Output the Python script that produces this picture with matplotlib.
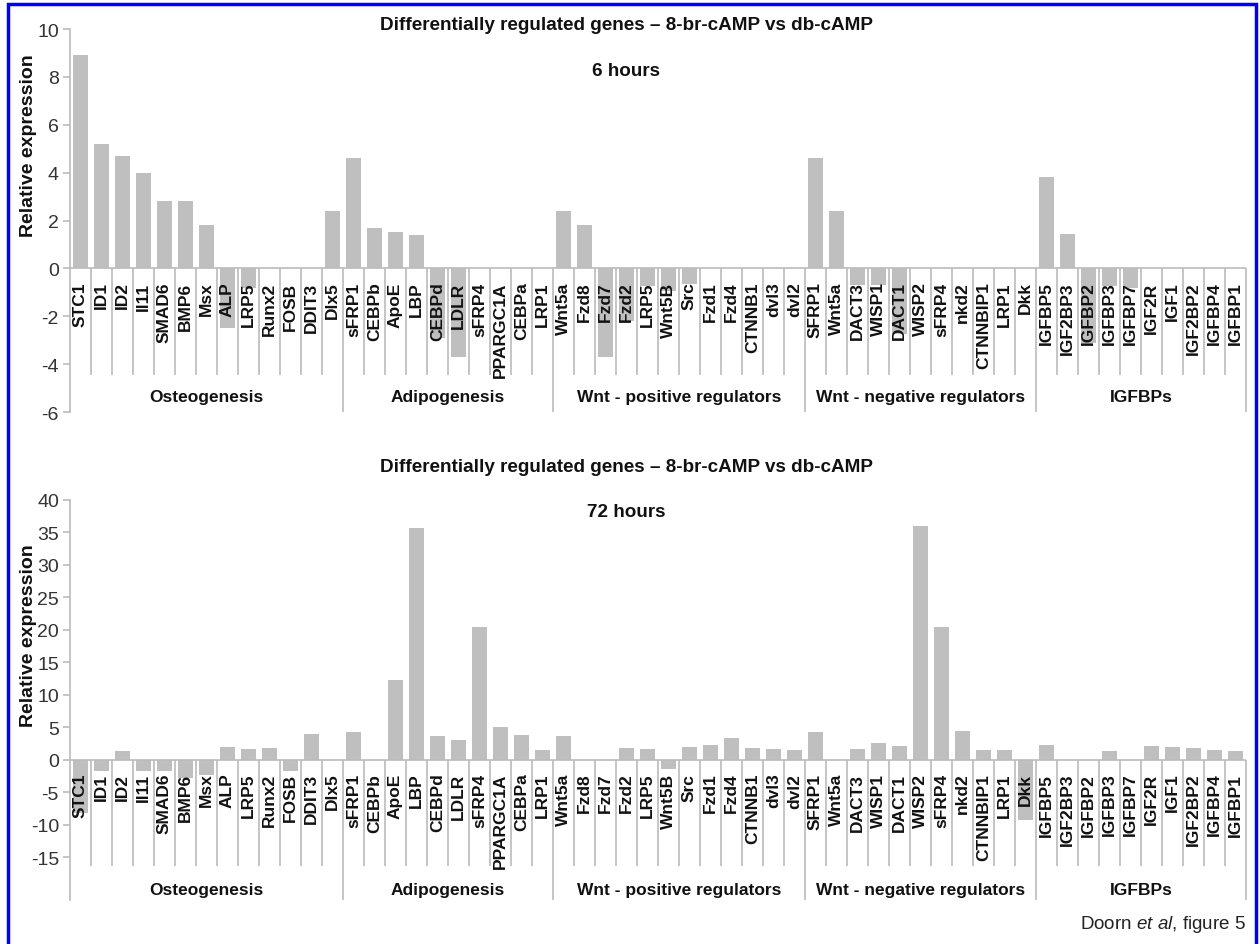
import numpy as np
import matplotlib
matplotlib.use('Agg')
import matplotlib.pyplot as plt
from matplotlib.transforms import offset_copy
from matplotlib.patches import Rectangle

plt.rcParams['font.family'] = ['Liberation Sans', 'DejaVu Sans']
plt.rcParams['axes.unicode_minus'] = False
plt.rcParams['mathtext.fontset'] = 'custom'
plt.rcParams['mathtext.rm'] = 'Liberation Sans'
plt.rcParams['mathtext.it'] = 'Liberation Sans:italic'

# gene groups (order as in the figure)
groups = ['Osteogenesis', 'Adipogenesis', 'Wnt - positive regulators',
          'Wnt - negative regulators', 'IGFBPs']
osteo = ['STC1', 'ID1', 'ID2', 'Il11', 'SMAD6', 'BMP6', 'Msx', 'ALP', 'LRP5',
         'Runx2', 'FOSB', 'DDIT3', 'Dlx5']
adipo = ['sFRP1', 'CEBPb', 'ApoE', 'LBP', 'CEBPd', 'LDLR', 'sFRP4', 'PPARGC1A',
         'CEBPa', 'LRP1']
wnt_pos = ['Wnt5a', 'Fzd8', 'Fzd7', 'Fzd2', 'LRP5', 'Wnt5B', 'Src', 'Fzd1',
           'Fzd4', 'CTNNB1', 'dvl3', 'dvl2']
wnt_neg = ['SFRP1', 'Wnt5a', 'DACT3', 'WISP1', 'DACT1', 'WISP2', 'sFRP4', 'nkd2',
           'CTNNBIP1', 'LRP1', 'Dkk']
igfbp = ['IGFBP5', 'IGF2BP3', 'IGFBP2', 'IGFBP3', 'IGFBP7', 'IGF2R', 'IGF1',
         'IGF2BP2', 'IGFBP4', 'IGFBP1']

# relative expression, 6 hours
h6_osteo = [8.9, 5.2, 4.7, 4.0, 2.8, 2.8, 1.8, -2.5, -0.8, 0, 0, 0, 2.4]
h6_adipo = [4.6, 1.7, 1.5, 1.4, -2.9, -3.7, 0, 0, 0, 0]
h6_wnt_pos = [2.4, 1.8, -3.7, -2.2, -0.75, -0.95, -0.65, 0, 0, 0, 0, 0]
h6_wnt_neg = [4.6, 2.4, -0.7, -0.7, -2.75, 0, 0, 0, 0, 0, 0]
h6_igfbp = [3.8, 1.45, -3.1, -0.75, -0.8, 0, 0, 0, 0, 0]

# relative expression, 72 hours
h72_osteo = [-8.2, -1.7, 1.4, -1.8, -1.8, -2.8, -2.3, 1.9, 1.65, 1.75, -1.8, 3.95, 0]
h72_adipo = [4.2, 0, 12.2, 35.6, 3.7, 3.0, 20.4, 5.0, 3.8, 1.5]
h72_wnt_pos = [3.6, 0, 0, 1.75, 1.65, -1.5, 1.9, 2.2, 3.4, 1.75, 1.65, 1.5]
h72_wnt_neg = [4.2, 0, 1.65, 2.6, 2.15, 36.0, 20.4, 4.45, 1.5, 1.5, -9.3]
h72_igfbp = [2.2, 0, 0, 1.4, 0, 2.15, 1.9, 1.75, 1.55, 1.4]

gene_groups = [osteo, adipo, wnt_pos, wnt_neg, igfbp]
genes = sum(gene_groups, [])
vals_6h = h6_osteo + h6_adipo + h6_wnt_pos + h6_wnt_neg + h6_igfbp
vals_72h = h72_osteo + h72_adipo + h72_wnt_pos + h72_wnt_neg + h72_igfbp

title = 'Differentially regulated genes \u2013 8-br-cAMP vs db-cAMP'
BAR = '#BFBFBF'
LINE = '#BBBBBB'

fig = plt.figure(figsize=(12.6, 9.45), dpi=100)


def panel(rect, values, ylim, yticks, sep_bottom, grp_label_y):
    ax = fig.add_axes(rect)
    x = np.arange(len(genes))
    ax.bar(x, values, width=0.68, color=BAR, zorder=2)
    ax.set_xlim(-0.5, len(genes) - 0.5)
    ax.set_ylim(*ylim)
    ax.set_yticks(yticks)
    ax.set_xticks([])
    for s in ['top', 'right', 'bottom']:
        ax.spines[s].set_visible(False)
    ax.spines['left'].set_color(LINE)
    ax.spines['left'].set_linewidth(1.2)
    ax.tick_params(axis='y', length=5, width=1.2, color=LINE,
                   labelsize=14, labelcolor='#333333', pad=3)
    ax.axhline(0, color=LINE, lw=1.2, zorder=3)

    # category separators and group separators
    bounds = np.cumsum([len(g) for g in gene_groups]) - 0.5
    seps = [b for b in np.arange(len(genes)) + 0.5 if b not in bounds]
    ax.vlines(seps, sep_bottom, 0, color=LINE, lw=1.2, zorder=1)
    ax.vlines(bounds, ylim[0], 0, color=LINE, lw=1.2, zorder=1, clip_on=False)

    # gene labels
    tr = offset_copy(ax.transData, fig=fig, y=-13, units='dots')
    for i, g in enumerate(genes):
        ax.text(i, 0, g, rotation=90, ha='center', va='top', transform=tr,
                fontsize=12.5, fontweight='bold', color='#111111', zorder=4)

    # group labels
    starts = np.concatenate([[-0.5], bounds[:-1]])
    for name, a, b in zip(groups, starts, bounds):
        ax.text((a + b) / 2, grp_label_y, name, ha='center', va='center',
                fontsize=12.5, fontweight='bold', color='#111111')

    ax.set_ylabel('Relative expression', fontsize=14, fontweight='bold',
                  color='#111111')
    return ax


ax1 = panel([70 / 1260, 1 - 413 / 945, 1176 / 1260, 383 / 945], vals_6h,
            (-6, 10), np.arange(-6, 11, 2), -4.45, -5.36)
ax2 = panel([70 / 1260, 1 - 900.5 / 945, 1176 / 1260, 399.8 / 945], vals_72h,
            (-21.5, 40), np.arange(-15, 41, 5), -16.3, -19.9)
ax1.yaxis.set_label_coords(-33 / 1176, 0.697)
ax2.yaxis.set_label_coords(-33 / 1176, 0.662)

for txt, y in [(title, 25), ('6 hours', 71), (title, 468), ('72 hours', 513)]:
    fig.text(626 / 1260, 1 - y / 945, txt, ha='center', va='center',
             fontsize=13.6, fontweight='bold', color='#111111')

fig.text(1246 / 1260, 1 - 925 / 945, r'Doorn $\mathit{et\ al}$, figure 5',
         ha='right', va='center', fontsize=13.5, color='#222222')

# blue frame
fig.patches.append(Rectangle((8 / 1260, -0.02), 1248 / 1260, 1 - 5 / 945 + 0.02,
                             transform=fig.transFigure, fill=False,
                             edgecolor='#0000FF', lw=2.5))

fig.savefig('out.png', dpi=100)
